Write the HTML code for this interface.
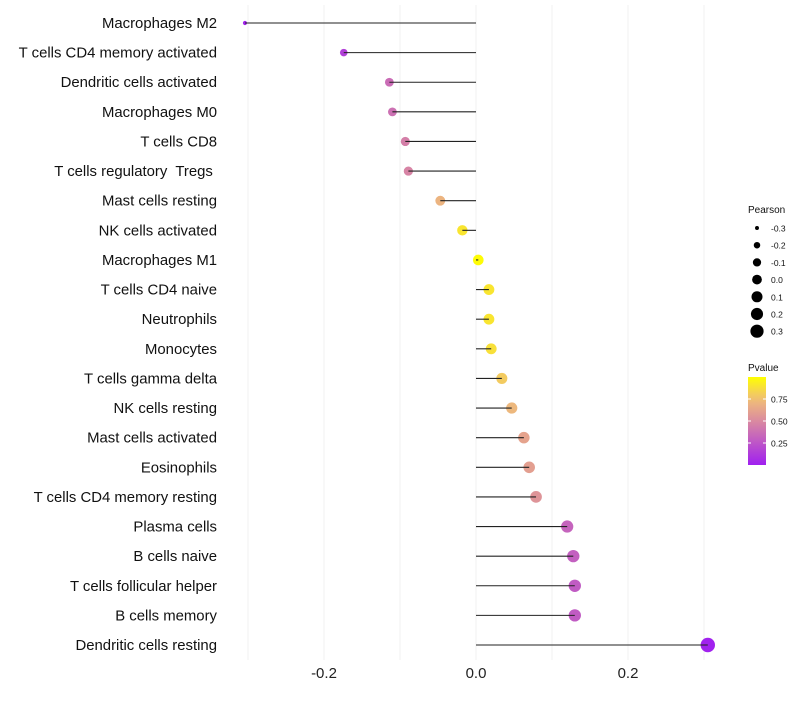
<!DOCTYPE html>
<html><head><meta charset="utf-8"><style>
body{margin:0;background:#fff;font-family:"Liberation Sans",sans-serif}
text{white-space:pre}
</style></head><body>
<svg id="chart" width="800" height="700" xmlns="http://www.w3.org/2000/svg"></svg>
<script>
const categories=["Macrophages M2","T cells CD4 memory activated","Dendritic cells activated","Macrophages M0","T cells CD8","T cells regulatory  Tregs ","Mast cells resting","NK cells activated","Macrophages M1","T cells CD4 naive","Neutrophils","Monocytes","T cells gamma delta","NK cells resting","Mast cells activated","Eosinophils","T cells CD4 memory resting","Plasma cells","B cells naive","T cells follicular helper","B cells memory","Dendritic cells resting"];
const pearson=[-0.304,-0.174,-0.114,-0.110,-0.093,-0.089,-0.047,-0.018,0.003,0.017,0.017,0.020,0.034,0.047,0.063,0.070,0.079,0.120,0.128,0.130,0.130,0.305];
const pvalue=[0.02,0.15,0.36,0.38,0.45,0.47,0.70,0.90,0.99,0.90,0.90,0.88,0.80,0.72,0.62,0.60,0.55,0.32,0.30,0.28,0.28,0.01];
const xTicks=[-0.2,0,0.2];
const xTickLabels=["-0.2","0.0","0.2"];
const sizeLegend=[-0.3,-0.2,-0.1,0.0,0.1,0.2,0.3];
const sizeLegendLabels=["-0.3","-0.2","-0.1","0.0","0.1","0.2","0.3"];
const pLegend=[0.25,0.5,0.75];
const pLegendLabels=["0.25","0.50","0.75"];

const svg=document.getElementById('chart');
const NS="http://www.w3.org/2000/svg";
const x=v=>476+v*760;
const y=i=>23+i*(622/(categories.length-1));
const r=v=>Math.sqrt(Math.max(1.5,28+78*v));
function col(p){
  const s=[[0,[160,32,240]],[0.5,[218,138,160]],[0.75,[240,190,120]],[1,[255,255,0]]];
  for(let k=1;k<s.length;k++){if(p<=s[k][0]){const t=(p-s[k-1][0])/(s[k][0]-s[k-1][0]);const a=s[k-1][1],b=s[k][1];return `rgb(${a.map((c,j)=>Math.round(c+(b[j]-c)*t)).join(',')})`;}}
  return 'rgb(255,255,0)';
}
function el(t,at,txt){const e=document.createElementNS(NS,t);for(const k in at)e.setAttribute(k,at[k]);if(txt!=null)e.textContent=txt;svg.appendChild(e);return e;}

[-0.3,-0.2,-0.1,0,0.1,0.2,0.3].forEach(v=>{
  const g=el('line',{x1:x(v),x2:x(v),y1:5,y2:660,stroke:'#f0f0f0','stroke-width':1});
  
  
});
xTicks.forEach((v,i)=>{
  const t=el('text',{x:x(v),y:678,'font-size':15,'text-anchor':'middle',fill:'#222'},xTickLabels[i]);
  
  
});
categories.forEach((c,i)=>{
  const t=el('text',{x:217,y:y(i)+5,'font-size':14.9,'text-anchor':'end',fill:'#111'},c);
  
  
  const d=el('circle',{cx:x(pearson[i]),cy:y(i),r:r(pearson[i]),fill:col(pvalue[i])});
  
  
  const l=el('line',{x1:x(0),x2:x(pearson[i]),y1:y(i),y2:y(i),stroke:'#222','stroke-width':1.1});
  
  
});
// legend
let lt=el('text',{x:748,y:213,'font-size':10,fill:'#111'},'Pearson');


sizeLegend.forEach((v,i)=>{
  const cy=228+i*17.2;
  const c=el('circle',{cx:757,cy:cy,r:r(v)*0.92,fill:'#000'});
  
  
  const t=el('text',{x:771,y:cy+3.5,'font-size':8.5,fill:'#111'},sizeLegendLabels[i]);
  
  
});
lt=el('text',{x:748,y:371,'font-size':10,fill:'#111'},'Pvalue');


const defs=el('defs',{});
const gr=document.createElementNS(NS,'linearGradient');gr.setAttribute('id','pg');gr.setAttribute('x1','0');gr.setAttribute('x2','0');gr.setAttribute('y1','1');gr.setAttribute('y2','0');
for(let k=0;k<=10;k++){const s=document.createElementNS(NS,'stop');s.setAttribute('offset',k/10);s.setAttribute('stop-color',col(k/10));gr.appendChild(s);}
defs.appendChild(gr);
const bar=el('rect',{x:748,y:377,width:18,height:88,fill:'url(#pg)'});


pLegend.forEach((p,i)=>{
  const yy=465-p*88;
  el('line',{x1:748,x2:751,y1:yy,y2:yy,stroke:'#fff'});
  el('line',{x1:763,x2:766,y1:yy,y2:yy,stroke:'#fff'});
  const t=el('text',{x:771,y:yy+3.5,'font-size':8.5,fill:'#111'},pLegendLabels[i]);
  
  
});
</script>
</body></html>
